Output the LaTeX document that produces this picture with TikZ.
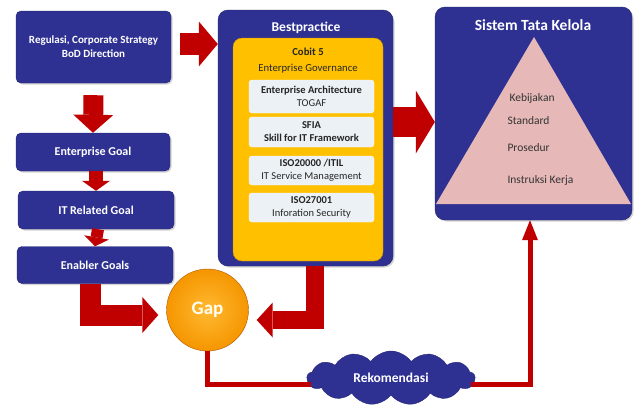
\documentclass[tikz,border=0pt]{standalone}
\usepackage{fontspec}
\setmainfont{Carlito}
\usetikzlibrary{arrows.meta,shapes.symbols,shadows}
\definecolor{navy}{RGB}{46,49,146}
\definecolor{arrowred}{RGB}{192,0,0}
\definecolor{bpyellow}{RGB}{255,192,0}
\definecolor{boxwhite}{RGB}{236,241,245}
\definecolor{pyrpink}{RGB}{230,185,184}
\definecolor{gapin}{RGB}{255,185,50}
\definecolor{gapout}{RGB}{245,150,0}

\begin{document}
\begin{tikzpicture}[x=1pt,y=-1pt,
  goal/.style={fill=navy, draw=navy!80!black, rounded corners=5pt, inner sep=0pt,
    text=white, align=center, font=\bfseries\fontsize{12}{14}\selectfont,
    drop shadow={opacity=0.35,shadow xshift=1.5pt,shadow yshift=-1.5pt}},
  panel/.style={fill=navy, draw=navy!70!black, rounded corners=10pt, inner sep=0pt,
    drop shadow={opacity=0.35,shadow xshift=1.5pt,shadow yshift=-1.5pt}},
  paneltitle/.style={text=white, font=\bfseries\fontsize{#1}{#1}\selectfont},
  framebox/.style={fill=boxwhite, draw=white, rounded corners=3pt, inner sep=0pt,
    minimum width=125pt, align=center, text=black!85, font=\fontsize{10.5}{13}\selectfont},
  pyrtext/.style={anchor=west, text=black!80, font=\fontsize{11.5}{13}\selectfont},
  blockarrow/.style args={#1/#2/#3}{draw=arrowred, line width=#1, line join=miter,
    -{Triangle[length=#2,width=#3,line width=0pt]}},
  redline/.style={draw=arrowred, line width=5pt, line join=miter}
]
  \useasboundingbox (0,0) rectangle (636,407);

  % left column
  \node[goal, minimum width=155pt, minimum height=72pt, font=\bfseries\fontsize{11}{14}\selectfont]
    (reg) at (93.5,47) {Regulasi, Corporate Strategy\\BoD Direction};
  \node[goal, minimum width=154pt, minimum height=38pt] (eg) at (93,152) {Enterprise Goal};
  \node[goal, minimum width=156pt, minimum height=38pt] (itg) at (96,210) {IT Related Goal};
  \node[goal, minimum width=156pt, minimum height=37pt] (enb) at (95,265) {Enabler Goals};

  % bestpractice
  \node[panel, minimum width=175pt, minimum height=256pt] (best) at (305.5,138) {};
  \node[paneltitle=13.5] (bptitle) at (306,28) {Bestpractice};
  \node[fill=bpyellow, draw=bpyellow!75!black, rounded corners=9pt, inner sep=0pt,
    minimum width=150pt, minimum height=223pt] (cobit) at (308,149.5) {};
  \node[align=center, text=black!85, font=\fontsize{10.7}{16}\selectfont]
    (cobittxt) at (308,61) {{\bfseries Cobit 5}\\Enterprise Governance};
  \node[framebox, minimum height=33pt] (ea) at (311.5,96.5)
    {{\bfseries Enterprise Architecture}\\TOGAF};
  \node[framebox, minimum height=30pt] (sfia) at (311.5,132)
    {{\bfseries SFIA}\\{\bfseries Skill for IT Framework}};
  \node[framebox, minimum height=29pt] (itil) at (311.5,170.5)
    {{\bfseries ISO20000 /ITIL}\\IT Service Management};
  \node[framebox, minimum height=29pt] (iso) at (311.5,207.5)
    {{\bfseries ISO27001}\\Inforation Security};

  % sistem tata kelola
  \node[panel, minimum width=197pt, minimum height=213pt] (sis) at (533.5,113.5) {};
  \node[paneltitle=15.5] (sistitle) at (533,25) {Sistem Tata Kelola};
  \fill[pyrpink] (534,37) -- (631,204) -- (436,204) -- cycle;
  \node[pyrtext] (kebijakan) at (506,98) {Kebijakan};
  \node[pyrtext] (standard) at (504,121) {Standard};
  \node[pyrtext] (prosedur) at (504,148) {Prosedur};
  \node[pyrtext] (instruksi) at (504,180) {Instruksi Kerja};

  % gap and rekomendasi
  \node[circle, minimum size=82pt, inner sep=0pt, shading=radial, inner color=gapin,
    outer color=gapout, draw=orange!70!black, text=white!95!yellow,
    font=\bfseries\fontsize{19}{19}\selectfont] (gap) at (207.5,310) {Gap};
  \node[cloud, cloud puffs=13, cloud puff arc=110, aspect=3, fill=navy, draw=navy!80!black,
    minimum width=168pt, minimum height=54pt, inner sep=0pt, text=white,
    font=\bfseries\fontsize{13.5}{14}\selectfont] (rek) at (391,378) {Rekomendasi};

  % arrows
  \draw[blockarrow=22pt/19pt/45pt] ([xshift=9pt]reg.east |- 0,44) -- (best.west |- 0,44);
  \draw[blockarrow=20pt/18pt/40pt] ([yshift=-12pt]reg.south) -- (eg.north);
  \draw[blockarrow=14pt/10pt/28pt] ([xshift=3pt]eg.south) -- (itg.north);
  \draw[blockarrow=12pt/9pt/25pt] ([xshift=2pt]itg.south) -- (enb.north);
  \draw[blockarrow=30pt/19pt/63pt] (best.east |- 0,122) -- (sis.west |- 0,122);
  \draw[blockarrow=21pt/16pt/36pt] ([xshift=-5pt]enb.south) |- ([shift={(-8,5)}]gap.west);
  \draw[blockarrow=18pt/16pt/35pt] ([xshift=9pt]best.south) |- ([shift={(8,10)}]gap.east);
  \draw[redline] (gap.south) |- ([xshift=4pt]rek.west |- 0,384);
  \draw[redline, -{Triangle[length=20pt,width=16pt,line width=0pt]}]
    ([xshift=-4pt]rek.east |- 0,384) -| ([xshift=-3.5pt]sis.south);
\end{tikzpicture}
\end{document}
